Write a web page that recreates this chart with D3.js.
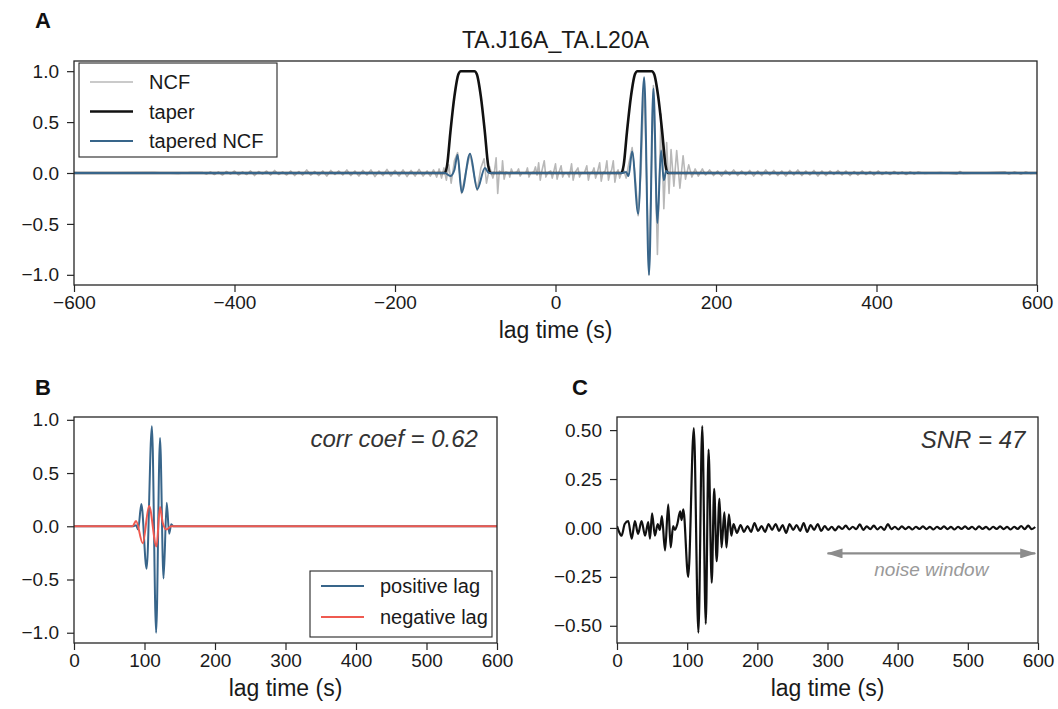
<!DOCTYPE html>
<html>
<head>
<meta charset="utf-8">
<script src="https://cdn.jsdelivr.net/npm/d3@7"></script>
<style>
  body { margin: 0; background: #fff; }
  svg { font-family: "Liberation Sans", Arial, Helvetica, sans-serif; }
</style>
</head>
<body>
<svg id="chart" width="1058" height="709"></svg>
<script>
// ---- data ----
const stationPair = "TA.J16A_TA.L20A";
const lagTicksA = [-600, -400, -200, 0, 200, 400, 600];
const lagTicksBC = [0, 100, 200, 300, 400, 500, 600];
const ampTicksAB = [-1.0, -0.5, 0.0, 0.5, 1.0];
const ampTicksC = [-0.5, -0.25, 0.0, 0.25, 0.5];
const corrCoef = 0.62;
const snr = 47;
const noiseWindow = [300, 596];

// taper (time s, weight)
const taper = [[-600,0],[-138,0],[-135,0.08],[-131,0.4],[-126,0.75],[-121,0.97],[-118,1],[-101,1],[-98,0.97],[-93,0.75],[-88,0.4],[-84,0.08],[-81,0],
  [82,0],[85,0.08],[89,0.4],[94,0.75],[99,0.97],[102,1],[120,1],[123,0.97],[128,0.75],[133,0.4],[137,0.08],[140,0],[600,0]];

// tapered NCF, negative and positive lag sides
const negLag = [[-138,0],[-131,-0.03],[-126,0.03],[-122,0.18],[-117,-0.19],[-106.5,0.19],[-97.5,-0.16],[-88,0.05],[-83,0]];
const posLag = [[83,0],[88,0.01],[91,-0.03],[95.5,0.21],[103,-0.4],[110.5,0.94],[116.5,-1.0],[122,0.83],[127,-0.49],[131.5,0.22],[135,-0.07],[138,0.02],[141,0]];

// raw NCF (grey): quiet ripples every 5 s, then the busy part
const ncfHead = [[-600,0],[-500,0.004],[-470,-0.005],[-455,0.005]];
const ncfQuietNegStart = -440;
const ncfQuietNeg = [0.005,-0.01,0.01,-0.015,0.01,-0.02,0.015,-0.01,0.02,-0.02,0.01,-0.015,0.02,-0.025,0.015,-0.01,0.02,-0.02,0.025,-0.015,
  0.01,-0.02,0.02,-0.025,0.015,-0.02,0.03,-0.02,0.015,-0.025,0.02,-0.03,0.025,-0.015,0.02,-0.02,0.03,-0.025,0.02,-0.03,
  0.025,-0.02,0.03,-0.035,0.02,-0.025,0.035,-0.03,0.025,-0.03,0.03,-0.035,0.025,-0.03,0.035,-0.03];
const ncfBusy = [[-160,0.02],[-156,-0.03],[-152,0.03],[-148,-0.04],[-145,0.04],[-142,-0.05],[-139,0.05],[-136,-0.07],[-133,0.08],[-130,-0.1],
  [-126,0.12],[-122,0.2],[-119.5,0],[-117,-0.2],[-112,0],[-106.5,0.19],[-102,0],[-97.5,-0.17],[-93,0.05],[-89,0.14],[-86,-0.1],[-82,0.06],
  [-80,0],[-78,-0.05],[-76,0.02],[-74,0.15],[-72,-0.2],[-70,0.02],[-67,0],[-66,0.12],[-64,-0.06],[-62,0.01],[-58,0],[-57,-0.04],[-55,0.04],
  [-53,0],[-48,0.01],[-46,0.04],[-44,-0.03],[-42,0],[-37,0],[-35,0.05],[-33,-0.04],[-31,0],[-27,0.01],[-25,0.06],[-23,-0.02],[-21,0.1],
  [-19,-0.07],[-17,0.02],[-14,0.12],[-12,-0.04],[-10,0],[-6,0.02],[-4,-0.05],[-2,0.02],[0,0.09],[2,-0.06],[4,0],[7,0.07],[9,-0.04],[11,0],
  [15,0],[17,-0.04],[18.5,0.02],[20,0.09],[22,-0.07],[24,0],[28,0.05],[30,-0.04],[32,0],[36,0],[39,0.07],[41,-0.07],[43,0],[46,0.01],
  [48,0.05],[50,-0.05],[52,0],[55,0.1],[57,-0.08],[59,0],[62,0.02],[64,0.12],[66,-0.07],[68,0],[70,0.03],[72,0.12],[74,-0.09],[76,0],
  [78,0.03],[80,-0.05],[82,0],[85,0.03],[88,-0.05],[91,0.08],[95.5,0.25],[99,0],[103,-0.42],[106.5,0],[110.5,0.93],[116.5,-1.0],[122,0.86],
  [127,-0.8],[131.5,0.58],[135,-0.35],[138.5,0.3],[141.5,-0.2],[144,0.23],[147.5,-0.13],[151,0.22],[155,-0.15],[159,0.17],[162,-0.06],
  [166,0.08],[170,-0.04],[174,0.04],[178,-0.03],[183,0.04],[187,-0.02]];
const ncfQuietPosStart = 192;
const ncfQuietPos = [0.03,-0.025,0.02,-0.03,0.025,-0.02,0.03,-0.025,0.02,-0.02,
  0.025,-0.03,0.02,-0.025,0.03,-0.02,0.025,-0.025,0.02,-0.03,
  0.025,-0.02,0.03,-0.025,0.02,-0.02,0.025,-0.03,0.02,-0.025,
  0.02,-0.015,0.025,-0.02,0.02,-0.025,0.015,-0.02,0.02,-0.015,
  0.015,-0.02,0.02,-0.015,0.01,-0.015,0.015,-0.01,0.01,-0.015,0.01,-0.01];
const ncfTail = [[452,0.01],[460,-0.005],[480,0.005],[500,-0.01],[504,0.015],[508,-0.005],[530,0],[560,0.01],[565,-0.01],[572,0.01],
  [580,-0.01],[586,0.01],[592,-0.005],[600,0]];

// symmetric component (panel C)
const symWave = [[0,0.01],[3,-0.02],[6.5,-0.04],[11,0.02],[16,0.035],[21,-0.055],[25.5,0.035],[30,-0.03],[35,0.035],[40,-0.04],
  [44.5,0.03],[47,-0.055],[50,0.075],[54,-0.04],[58,0.02],[61,-0.01],[64,0.06],[68.5,-0.115],[73,0.12],[76.5,-0.1],[80,0.01],
  [82.5,-0.01],[86,0.02],[90,0.085],[92,0.04],[94.5,0.095],[101.5,-0.25],[109.5,0.51],[116,-0.535],[121.5,0.52],[126.5,-0.49],
  [130.5,0.4],[135,-0.28],[138.5,0.2],[142,-0.17],[146,0.15],[149,-0.1],[153,0.08],[156,-0.1],[159.5,0.07],[163,-0.04]];
const symNoiseStart = 166;
const symNoise = [0.02,-0.025,0.015,-0.02,0.01,-0.02,0.025,-0.015,0.01,-0.02,0.02,-0.01,0.02,-0.015,0.015,-0.025,0.02,-0.01,0.015,-0.015,
  0.025,-0.02,0.015,-0.01,0.02,-0.015,0.01,
  -0.01,0.006,-0.012,0.008,-0.005,0.012,-0.008,0.006,-0.006,0.018,-0.01,0.008,-0.006,0.012,-0.008,0.006,-0.01,0.02,-0.006,0.006,
  -0.008,0.008,-0.006,0.005,-0.008,0.006,-0.005,0.008,-0.006,0.005,-0.008,0.006,-0.005,0.008,-0.006,0.005,-0.008,0.006,-0.005,0.008,
  -0.005,0.006,-0.008,0.008,-0.005,0.005,-0.008,0.006,-0.005,0.008,-0.006,0.005,-0.008,0.006,-0.005,0.01,-0.006,0.012,-0.006,0.005];

// ---- drawing ----
const svg = d3.select("#chart");
const ink = "#262626";
const grey = "#b8b8b8", blue = "#38658a", red = "#ef5a50";

function makePanel(id, box, xDomain, yDomain, xTicks, yTicks, yFmt) {
  const x = d3.scaleLinear().domain(xDomain).range([box.left, box.right]);
  const y = d3.scaleLinear().domain(yDomain).range([box.bottom, box.top]);
  const g = svg.append("g");
  g.append("clipPath").attr("id", id).append("rect")
    .attr("x", box.left).attr("y", box.top)
    .attr("width", box.right - box.left).attr("height", box.bottom - box.top);
  const plot = g.append("g").attr("clip-path", "url(#" + id + ")");

  g.append("g").attr("transform", "translate(0," + box.bottom + ")")
    .call(d3.axisBottom(x).tickValues(xTicks).tickFormat(d3.format("d")).tickSize(7).tickPadding(4).tickSizeOuter(0));
  g.append("g").attr("transform", "translate(" + box.left + ",0)")
    .call(d3.axisLeft(y).tickValues(yTicks).tickFormat(d3.format(yFmt)).tickSize(7).tickPadding(8).tickSizeOuter(0));
  g.selectAll(".domain").remove();
  g.selectAll(".tick line").attr("stroke", ink).attr("stroke-width", 1.2);
  g.selectAll(".tick text").attr("fill", "#1a1a1a").style("font-size", "19px");

  g.append("rect")
    .attr("x", box.left).attr("y", box.top)
    .attr("width", box.right - box.left).attr("height", box.bottom - box.top)
    .attr("fill", "none").attr("stroke", ink).attr("stroke-width", 1.3);

  g.append("text")
    .attr("x", (box.left + box.right) / 2).attr("y", box.bottom + 53)
    .attr("text-anchor", "middle").style("font-size", "23px").attr("fill", "#1a1a1a")
    .text("lag time (s)");
  return { g, plot, x, y, box };
}

function trace(p, data, color, width, curve) {
  p.plot.append("path").datum(data)
    .attr("fill", "none").attr("stroke", color).attr("stroke-width", width)
    .attr("stroke-linejoin", "round")
    .attr("d", d3.line().x(d => p.x(d[0])).y(d => p.y(d[1])).curve(curve));
}

function legend(p, box, items) {
  const lg = p.g.append("g");
  lg.append("rect").attr("x", box.x).attr("y", box.y).attr("width", box.w).attr("height", box.h)
    .attr("fill", "#fff").attr("stroke", ink).attr("stroke-width", 1.1);
  items.forEach((it, i) => {
    const cy = box.y + box.first + i * box.gap;
    lg.append("line").attr("x1", box.x + 11).attr("x2", box.x + 54).attr("y1", cy).attr("y2", cy)
      .attr("stroke", it.color).attr("stroke-width", it.width);
    lg.append("text").attr("x", box.x + 70).attr("y", cy).attr("dy", "0.35em")
      .style("font-size", "20px").attr("fill", "#1a1a1a").text(it.label);
  });
}

function letter(txt, x, y) {
  svg.append("text").attr("x", x).attr("y", y).style("font-size", "22px").style("font-weight", "bold")
    .attr("fill", "#111").text(txt);
}

// Panel A
const pA = makePanel("clipA", { left: 74, right: 1037, top: 61, bottom: 285 },
  [-600, 600], [-1.1, 1.1], lagTicksA, ampTicksAB, ".1f");
const ncf = ncfHead
  .concat(ncfQuietNeg.map((v, i) => [ncfQuietNegStart + 5 * i, v]))
  .concat(ncfBusy)
  .concat(ncfQuietPos.map((v, i) => [ncfQuietPosStart + 5 * i, v]))
  .concat(ncfTail);
trace(pA, ncf, grey, 1.6, d3.curveLinear);
trace(pA, taper, "#111", 2.6, d3.curveMonotoneX);
trace(pA, [[-600, 0]].concat(negLag, posLag, [[600, 0]]), blue, 2, d3.curveMonotoneX);
legend(pA, { x: 79, y: 63, w: 198, h: 94, first: 19, gap: 29.5 }, [
  { label: "NCF", color: grey, width: 1.6 },
  { label: "taper", color: "#111", width: 2.6 },
  { label: "tapered NCF", color: blue, width: 2 }
]);
svg.append("text").attr("x", (74 + 1037) / 2).attr("y", 48).attr("text-anchor", "middle")
  .style("font-size", "23px").attr("fill", "#1a1a1a").text(stationPair);

// Panel B
const pB = makePanel("clipB", { left: 74, right: 497, top: 417, bottom: 643 },
  [0, 600], [-1.0965, 1.0265], lagTicksBC, ampTicksAB, ".1f");
trace(pB, [[0, 0]].concat(posLag, [[600, 0]]), blue, 2, d3.curveMonotoneX);
trace(pB, [[0, 0]].concat(negLag.map(d => [-d[0], d[1]]).reverse(), [[600, 0]]), red, 2, d3.curveMonotoneX);
legend(pB, { x: 310, y: 571, w: 182, h: 66, first: 15, gap: 31 }, [
  { label: "positive lag", color: blue, width: 2 },
  { label: "negative lag", color: red, width: 2 }
]);
pB.g.append("text").attr("x", 74 + 0.955 * 423).attr("y", 447).attr("text-anchor", "end")
  .style("font-size", "24px").style("font-style", "italic").attr("fill", "#333")
  .text("corr coef = " + corrCoef.toFixed(2));

// Panel C
const pC = makePanel("clipC", { left: 617, right: 1038, top: 417, bottom: 643 },
  [0, 600], [-0.588, 0.567], lagTicksBC, ampTicksC, ".2f");
const sym = symWave.concat(symNoise.map((v, i) => [symNoiseStart + 5 * i, v]));
trace(pC, sym, "#111", 2.2, d3.curveMonotoneX);
pC.g.append("text").attr("x", 617 + 0.97 * 421).attr("y", 448).attr("text-anchor", "end")
  .style("font-size", "24px").style("font-style", "italic").attr("fill", "#333")
  .text("SNR = " + snr);

const defs = svg.append("defs");
defs.append("marker").attr("id", "head").attr("viewBox", "0 0 16 10")
  .attr("refX", 15).attr("refY", 5).attr("markerWidth", 16).attr("markerHeight", 10)
  .attr("markerUnits", "userSpaceOnUse").attr("orient", "auto-start-reverse")
  .append("path").attr("d", "M0,0L16,5L0,10Z").attr("fill", "#8c8c8c");
const arrowY = pC.y(-0.13);
pC.g.append("line").attr("x1", pC.x(noiseWindow[0])).attr("x2", pC.x(noiseWindow[1]))
  .attr("y1", arrowY).attr("y2", arrowY).attr("stroke", "#8c8c8c").attr("stroke-width", 2.4)
  .attr("marker-start", "url(#head)").attr("marker-end", "url(#head)");
pC.g.append("text").attr("x", pC.x((noiseWindow[0] + noiseWindow[1]) / 2)).attr("y", arrowY + 23)
  .attr("text-anchor", "middle").style("font-size", "19px").style("font-style", "italic")
  .attr("fill", "#999").text("noise window");

letter("A", 35, 28);
letter("B", 35, 395);
letter("C", 572, 395);
</script>
</body>
</html>
